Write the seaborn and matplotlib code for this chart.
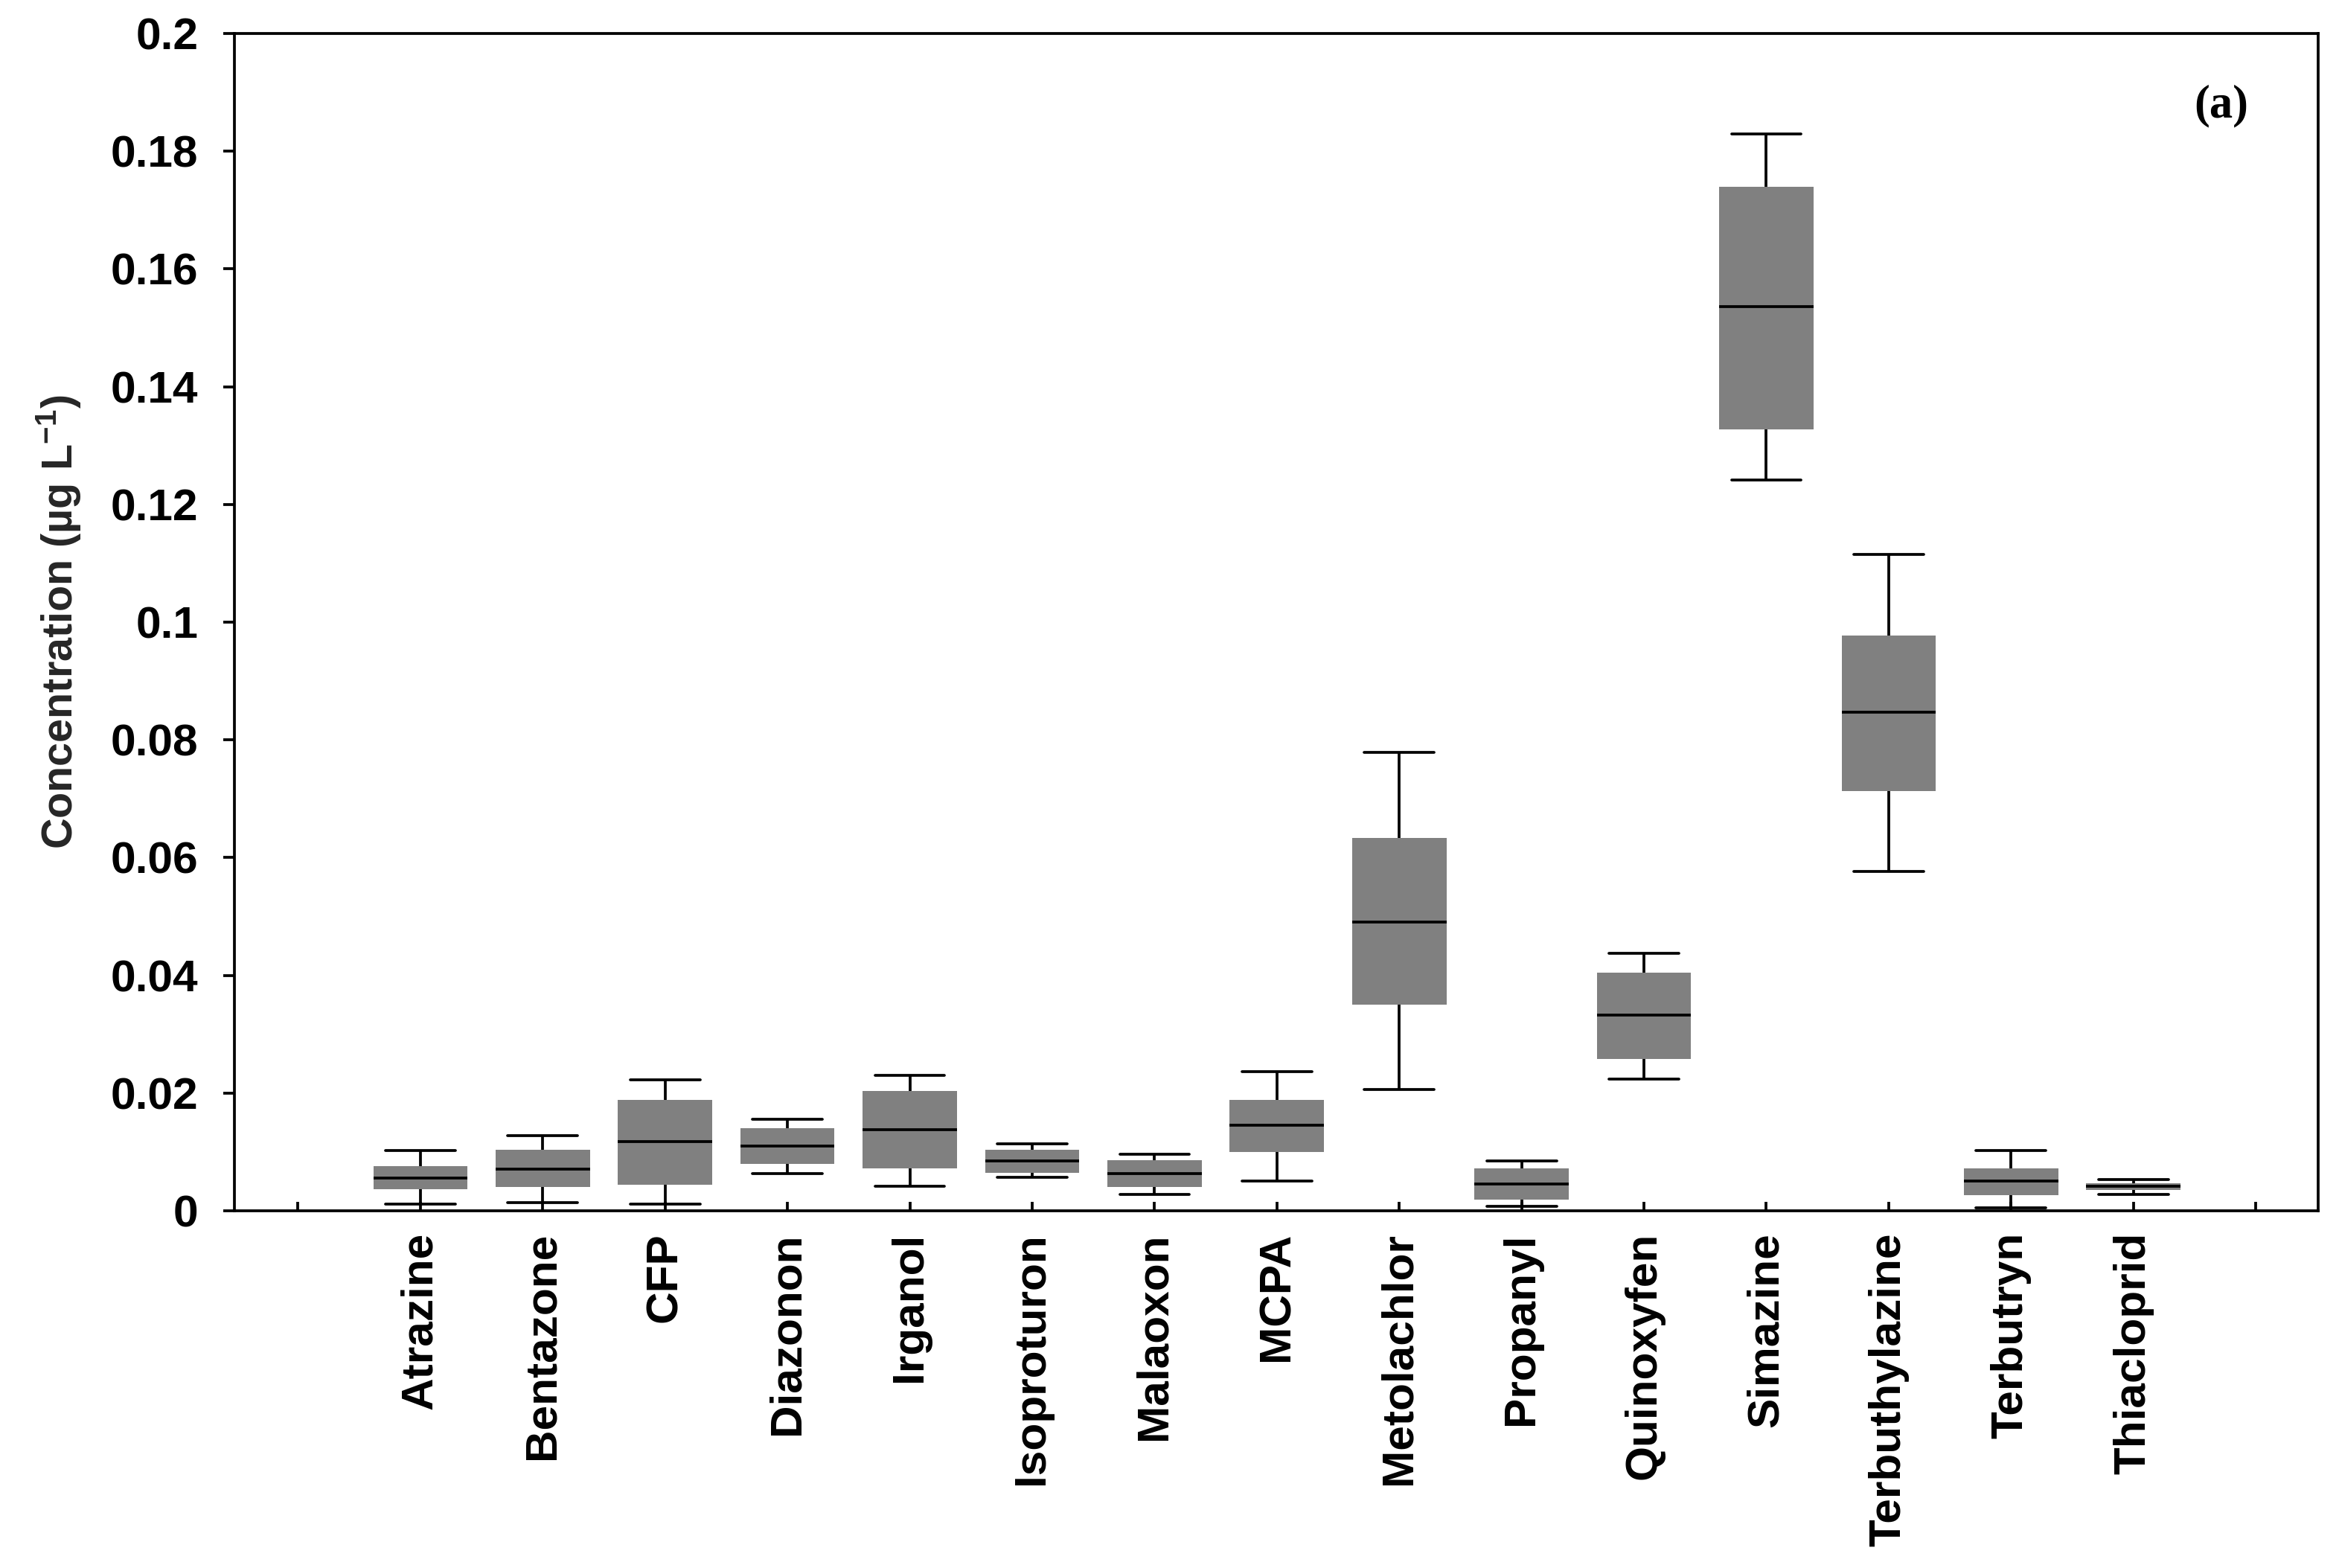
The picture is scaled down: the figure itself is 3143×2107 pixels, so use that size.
import numpy as np
import pandas as pd
import matplotlib
matplotlib.use("Agg")
import matplotlib.pyplot as plt
import seaborn as sns
from matplotlib.ticker import FuncFormatter

compounds = ["Atrazine", "Bentazone", "CFP", "Diazonon", "Irganol", "Isoproturon",
             "Malaoxon", "MCPA", "Metolachlor", "Propanyl", "Quinoxyfen", "Simazine",
             "Terbuthylazine", "Terbutryn", "Thiacloprid"]
whisker_low = [0.0011, 0.0014, 0.0011, 0.0063, 0.0042, 0.0057, 0.0028, 0.0050,
               0.0206, 0.0007, 0.0224, 0.1241, 0.0576, 0.0005, 0.0028]
q1 = [0.0037, 0.0040, 0.0044, 0.0080, 0.0072, 0.0065, 0.0040, 0.0100,
      0.0350, 0.0019, 0.0258, 0.1327, 0.0713, 0.0027, 0.0035]
median = [0.0056, 0.0071, 0.0117, 0.0110, 0.0138, 0.0085, 0.0063, 0.0145,
          0.0491, 0.0045, 0.0333, 0.1536, 0.0847, 0.0050, 0.0042]
q3 = [0.0076, 0.0104, 0.0189, 0.0140, 0.0204, 0.0104, 0.0086, 0.0189,
      0.0633, 0.0072, 0.0404, 0.1740, 0.0977, 0.0072, 0.0047]
whisker_high = [0.0102, 0.0128, 0.0223, 0.0156, 0.0230, 0.0114, 0.0096, 0.0237,
                0.0779, 0.0085, 0.0438, 0.1830, 0.1115, 0.0102, 0.0053]
y_ticks = [0, 0.02, 0.04, 0.06, 0.08, 0.1, 0.12, 0.14, 0.16, 0.18, 0.2]

rows = []
for c, lo, a, m, b, hi in zip(compounds, whisker_low, q1, median, q3, whisker_high):
    for v in (lo, a, m, b, hi):
        rows.append({"Compound": c, "Concentration": v})
df = pd.DataFrame(rows)

sns.set_theme(style="ticks")
plt.rcParams['font.family'] = ['Liberation Sans', 'DejaVu Sans']
plt.rcParams['font.weight'] = 'bold'
plt.rcParams['mathtext.fontset'] = 'custom'
plt.rcParams['mathtext.rm'] = 'Liberation Sans:bold'
plt.rcParams['mathtext.bf'] = 'Liberation Sans:bold'
plt.rcParams['mathtext.it'] = 'Liberation Sans:bold'
plt.rcParams['mathtext.default'] = 'bf'
plt.rcParams['text.color'] = 'black'
plt.rcParams['axes.edgecolor'] = 'black'
plt.rcParams['xtick.color'] = 'black'
plt.rcParams['ytick.color'] = 'black'

fig = plt.figure(figsize=(3143 / 300, 2107 / 300), dpi=300)
ax = fig.add_axes([0.1002, 0.2278, 0.8909, 0.7508])

box_w = 0.77
cap_w = 0.57
common = dict(data=df, x="Compound", y="Concentration", order=compounds,
              color="#808080", saturation=1, width=box_w, whis=np.inf,
              linecolor="black", linewidth=0.9, showfliers=False, ax=ax)
used_capwidths = True
try:
    sns.boxplot(capwidths=cap_w, **common)
except TypeError:
    ax.cla()
    used_capwidths = False
    sns.boxplot(**common)

# styling: no box outlines, wider caps if needed
for p in ax.patches:
    p.set_edgecolor('none')
    p.set_linewidth(0)
if not used_capwidths:
    for ln in ax.lines:
        xd = np.asarray(ln.get_xdata(), dtype=float)
        yd = np.asarray(ln.get_ydata(), dtype=float)
        if len(xd) == 2 and np.isclose(yd[0], yd[1]) and np.isclose(abs(xd[1] - xd[0]), box_w / 2):
            cx = xd.mean()
            ln.set_xdata([cx - cap_w / 2, cx + cap_w / 2])

ax.set_ylim(0, 0.2)
ax.set_yticks(y_ticks)
ax.yaxis.set_major_formatter(FuncFormatter(lambda v, p: f"{v:g}"))
ax.set_xticks(list(range(-1, len(compounds) + 1)))
ax.set_xticklabels([""] + compounds + [""], rotation=90, fontsize=14.5, fontweight='bold')
ax.set_xlim(-1.52, 15.51)
for lab in ax.get_yticklabels():
    lab.set_fontsize(14.5)
    lab.set_fontweight('bold')

ax.tick_params(axis='x', direction='in', length=3, width=0.9, pad=7)
ax.tick_params(axis='y', direction='out', length=3.6, width=0.9, pad=8)
for s in ax.spines.values():
    s.set_visible(True)
    s.set_linewidth(0.9)
    s.set_color('black')

ax.set_xlabel("")
ax.set_ylabel(r"Concentration (µg L$^{\mathbf{-1}}$)", fontsize=13.8, fontweight='bold', labelpad=9)

ax.text(0.9536, 0.9387, "(a)", transform=ax.transAxes, ha='center', va='center',
        fontsize=15, fontweight='bold', family=['Liberation Serif', 'DejaVu Serif'])

fig.savefig("out.png", dpi=300)
